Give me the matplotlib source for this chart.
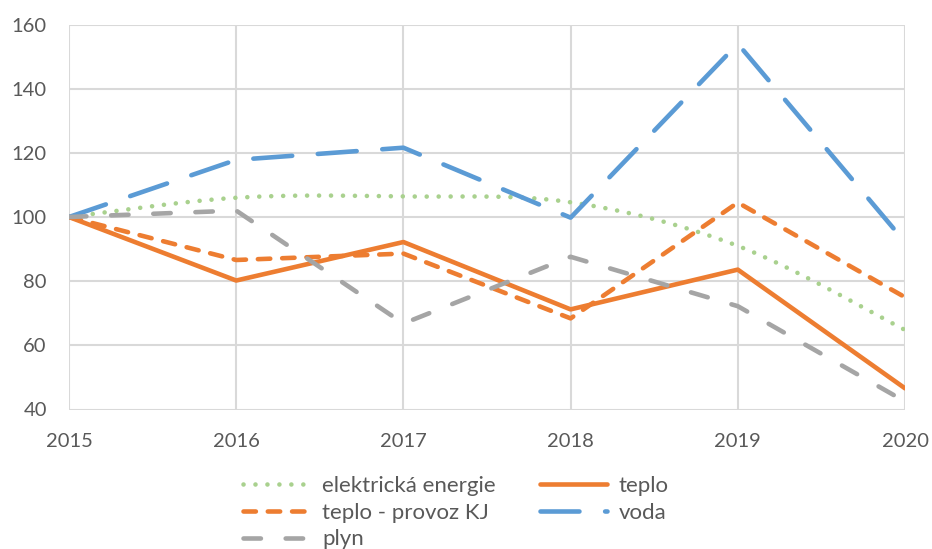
#!/usr/bin/env python3
"""Index chart of energy consumption 2015-2020 (2015 = 100)."""

import numpy as np

import matplotlib
matplotlib.use("Agg")
import matplotlib.pyplot as plt

years = [2015, 2016, 2017, 2018, 2019, 2020]

elektricka_energie = [100, 106.0, 106.4, 104.6, 91.0, 64.8]
teplo = [100, 80.2, 92.2, 71.2, 83.6, 46.6]
teplo_provoz_kj = [100, 86.6, 88.6, 68.4, 104.5, 75.0]
voda = [100, 117.8, 121.6, 99.8, 154.0, 92.2]
plyn = [100, 102.0, 66.8, 87.6, 72.2, 42.5]

labels = ["elektrická energie", "teplo", "teplo - provoz KJ", "voda", "plyn"]
y_ticks = [40, 60, 80, 100, 120, 140, 160]

GREEN = "#A9D18E"
ORANGE = "#ED7D31"
BLUE = "#5B9BD5"
GRAY = "#A5A5A5"
TEXT = "#595959"
GRID = "#D9D9D9"


def smooth(x, y, steps=30):
    # Excel-style smoothed line: cubic bezier with catmull-rom control points
    x = np.asarray(x, dtype=float)
    y = np.asarray(y, dtype=float)
    px = np.concatenate([[x[0]], x, [x[-1]]])
    py = np.concatenate([[y[0]], y, [y[-1]]])
    t = np.linspace(0, 1, steps)
    xs, ys = [], []
    for i in range(1, len(px) - 2):
        p0 = np.array([px[i], py[i]])
        p3 = np.array([px[i + 1], py[i + 1]])
        c1 = p0 + (p3 - np.array([px[i - 1], py[i - 1]])) / 6
        c2 = p3 - (np.array([px[i + 2], py[i + 2]]) - p0) / 6
        pts = ((1 - t) ** 3)[:, None] * p0 + (3 * (1 - t) ** 2 * t)[:, None] * c1 \
            + (3 * (1 - t) * t ** 2)[:, None] * c2 + (t ** 3)[:, None] * p3
        xs.extend(pts[:, 0])
        ys.extend(pts[:, 1])
    return np.array(xs), np.array(ys)


plt.rcParams["font.family"] = ["Lato", "DejaVu Sans"]

fig = plt.figure(figsize=(9.32, 5.49), dpi=100)
ax = fig.add_axes([69 / 932, 1 - 409.5 / 549, (905 - 69) / 932, (409.5 - 24.5) / 549])

lw = 3.3
sx, sy = smooth(years, elektricka_energie)
h_el, = ax.plot(sx, sy, color=GREEN, lw=lw, dashes=(0.01, 2.6),
                dash_capstyle="round", label=labels[0])
h_te, = ax.plot(years, teplo, color=ORANGE, lw=lw, solid_capstyle="round",
                solid_joinstyle="round", label=labels[1])
h_kj, = ax.plot(years, teplo_provoz_kj, color=ORANGE, lw=lw, dashes=(2.7, 2.6),
                dash_capstyle="round", label=labels[2])
h_vo, = ax.plot(years, voda, color=BLUE, lw=lw, dashes=(8.5, 5.6),
                dash_capstyle="round", label=labels[3])
h_pl, = ax.plot(years, plyn, color=GRAY, lw=lw, dashes=(3.8, 5.4),
                dash_capstyle="round", label=labels[4])

ax.set_xlim(years[0], years[-1])
ax.set_ylim(y_ticks[0], y_ticks[-1])
ax.set_xticks(years)
ax.set_yticks(y_ticks)
ax.grid(True, color=GRID, lw=1.5)
ax.set_axisbelow(True)
for s in ax.spines.values():
    s.set_visible(False)
ax.tick_params(length=0, labelsize=14.5, colors=TEXT)
ax.tick_params(axis="y", pad=16)
ax.tick_params(axis="x", pad=17)

fig.legend([h_el, h_kj, h_pl, h_te, h_vo],
           [labels[0], labels[2], labels[4], labels[1], labels[3]],
           ncol=2, loc="upper left", bbox_to_anchor=(243 / 932, 1 - 476 / 549),
           frameon=False, fontsize=16, labelcolor=TEXT, handlelength=3.0,
           handletextpad=0.55, columnspacing=2.0, labelspacing=0.3, borderpad=0,
           borderaxespad=0)

fig.savefig("out.png", dpi=100)
